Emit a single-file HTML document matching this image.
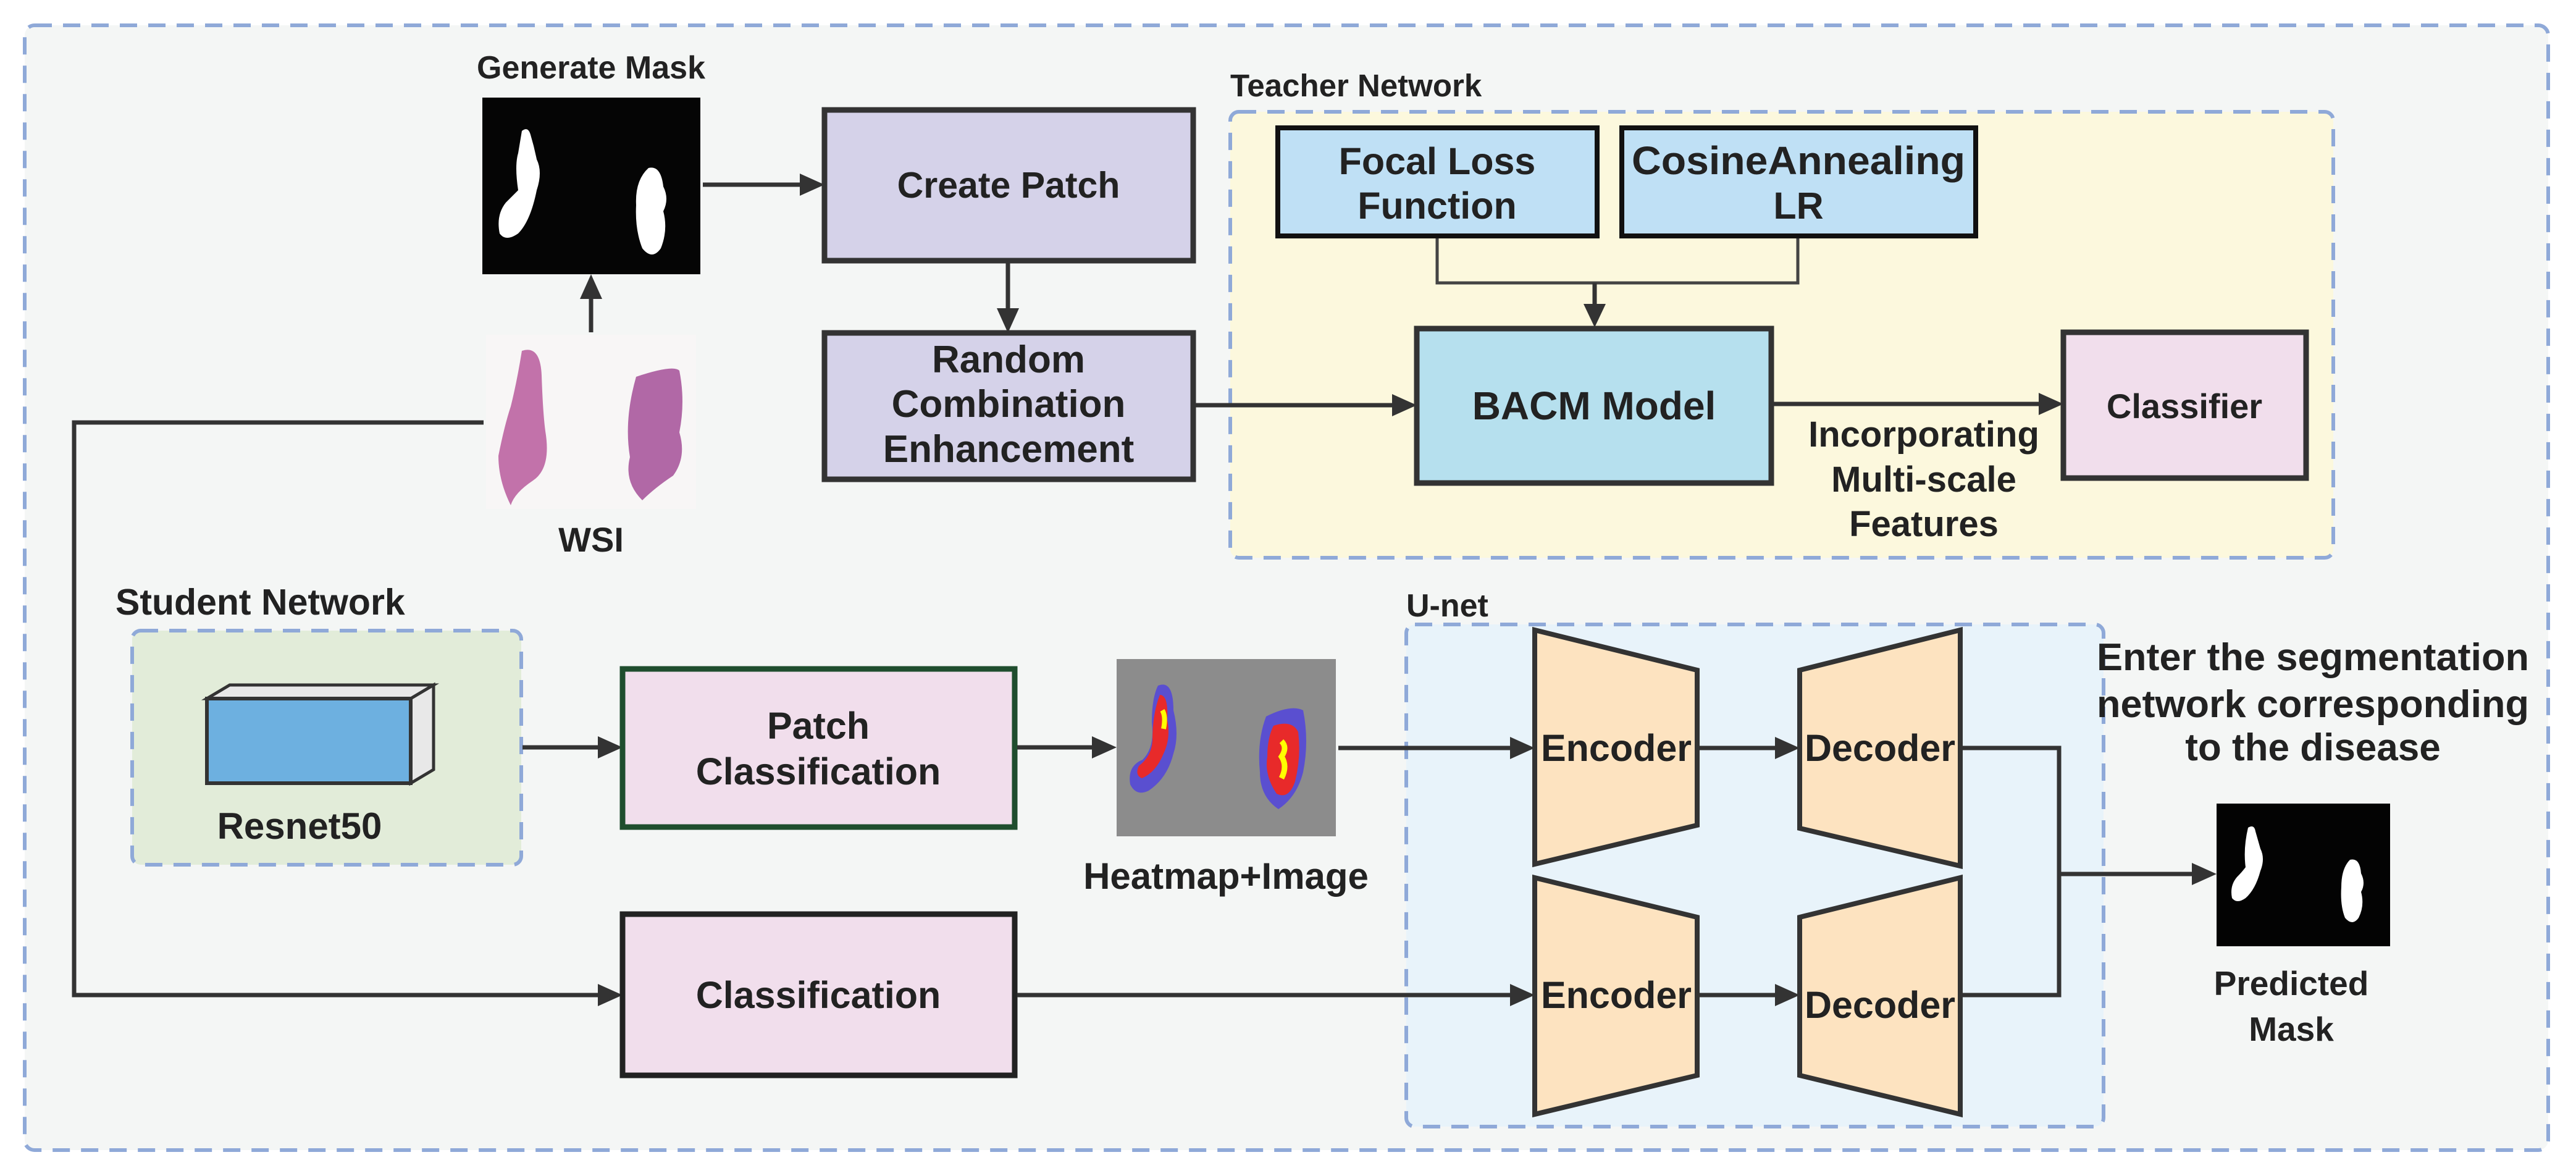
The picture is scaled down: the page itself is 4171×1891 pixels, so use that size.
<!DOCTYPE html>
<html><head><meta charset="utf-8"><style>
html,body{margin:0;padding:0;background:#fff;}
svg{display:block;}
text{font-family:"Liberation Sans",Arial,sans-serif;font-weight:bold;fill:#222;}
</style></head><body>
<svg width="4171" height="1891" viewBox="0 0 4171 1891" xmlns="http://www.w3.org/2000/svg">
<style>
.ln{stroke:#333;stroke-width:7;fill:none;}
.dash{stroke:#8fa9d8;stroke-width:6;stroke-dasharray:28 18;}
.hd{fill:#333;}
</style>
<!-- outer -->
<rect x="40" y="41" width="4086" height="1821" rx="16" fill="#f4f6f5" class="dash"/>
<!-- teacher -->
<rect x="1992" y="181" width="1786" height="722" rx="14" fill="#fcf8dd" class="dash"/>
<text x="1992" y="156" font-size="51">Teacher Network</text>
<!-- student -->
<rect x="214" y="1021" width="630" height="379" rx="14" fill="#e2ecd9" class="dash"/>
<text x="187" y="995" font-size="59">Student Network</text>
<!-- unet -->
<rect x="2277" y="1011" width="1129" height="813" rx="14" fill="#e8f3fa" class="dash"/>
<text x="2277" y="998" font-size="52">U-net</text>

<!-- Generate Mask -->
<text x="957" y="127" font-size="52" text-anchor="middle">Generate Mask</text>
<rect x="781" y="158" width="353" height="286" fill="#050505"/>
<path d="M845,212 q10,-8 14,6 q6,20 10,40 q10,20 0,50 q-10,50 -30,70 q-20,14 -30,0 q-6,-30 10,-50 q10,-10 20,-20 q-6,-40 0,-60 z" fill="#fff"/>
<path d="M1050,272 q20,-5 24,30 q10,20 0,40 q8,30 -4,60 q-14,20 -30,0 q-12,-30 -10,-70 q-2,-40 20,-60 z" fill="#fff"/>

<!-- WSI -->
<rect x="787" y="542" width="340" height="282" fill="#f8f6f6"/>
<path d="M845,568 q30,-10 32,40 q2,60 6,90 q10,60 -20,80 q-30,20 -36,40 q-20,-40 -20,-80 q10,-50 20,-80 q10,-40 18,-90 z" fill="#b85a9c" opacity="0.85"/>
<path d="M1030,610 q60,-20 70,-10 q10,50 0,100 q12,40 -10,70 q-30,20 -50,40 q-30,-30 -20,-70 q-10,-60 10,-130 z" fill="#a44f98" opacity="0.85"/>
<text x="957" y="893" font-size="56" text-anchor="middle">WSI</text>

<!-- Create Patch -->
<rect x="1335" y="178" width="597" height="244" fill="#d5d2e9" stroke="#333" stroke-width="9"/>
<text x="1633" y="320" font-size="59" text-anchor="middle">Create Patch</text>
<!-- Random -->
<rect x="1335" y="539" width="597" height="237" fill="#d5d2e9" stroke="#333" stroke-width="9"/>
<text x="1633" y="603" font-size="62" text-anchor="middle">Random</text>
<text x="1633" y="675" font-size="62" text-anchor="middle">Combination</text>
<text x="1633" y="748" font-size="62" text-anchor="middle">Enhancement</text>

<!-- Focal / Cosine -->
<rect x="2069" y="207" width="517" height="175" fill="#bfe0f5" stroke="#111" stroke-width="8"/>
<text x="2327" y="282" font-size="61" text-anchor="middle">Focal Loss</text>
<text x="2327" y="354" font-size="61" text-anchor="middle">Function</text>
<rect x="2626" y="207" width="573" height="175" fill="#bfe0f5" stroke="#111" stroke-width="8"/>
<text x="2912" y="282" font-size="64" text-anchor="middle" textLength="540" lengthAdjust="spacingAndGlyphs">CosineAnnealing</text>
<text x="2912" y="354" font-size="61" text-anchor="middle">LR</text>
<polyline points="2327,386 2327,458 2911,458 2911,386" fill="none" stroke="#444" stroke-width="5"/>
<line x1="2582" y1="458" x2="2582" y2="495" class="ln"/>
<polygon class="hd" points="2564,492 2600,492 2582,530"/>
<!-- BACM -->
<rect x="2294" y="532" width="574" height="250" fill="#b6e0ee" stroke="#333" stroke-width="9"/>
<text x="2581" y="679" font-size="64" text-anchor="middle">BACM Model</text>
<!-- Classifier -->
<rect x="3341" y="538" width="393" height="236" fill="#f1deec" stroke="#333" stroke-width="9"/>
<text x="3537" y="677" font-size="56" text-anchor="middle">Classifier</text>
<text x="3115" y="723" font-size="58" text-anchor="middle">Incorporating</text>
<text x="3115" y="796" font-size="58" text-anchor="middle">Multi-scale</text>
<text x="3115" y="868" font-size="58" text-anchor="middle">Features</text>

<!-- arrows top -->
<line x1="1138" y1="299" x2="1300" y2="299" class="ln"/>
<polygon class="hd" points="1295,281 1335,299 1295,317"/>
<line x1="957" y1="538" x2="957" y2="480" class="ln"/>
<polygon class="hd" points="939,484 957,444 975,484"/>
<line x1="1632" y1="426" x2="1632" y2="505" class="ln"/>
<polygon class="hd" points="1614,499 1650,499 1632,539"/>
<line x1="1936" y1="656" x2="2260" y2="656" class="ln"/>
<polygon class="hd" points="2254,638 2294,656 2254,674"/>
<line x1="2872" y1="654" x2="3305" y2="654" class="ln"/>
<polygon class="hd" points="3301,636 3341,654 3301,672"/>
<polyline points="783,684 120,684 120,1611 975,1611" class="ln"/>
<polygon class="hd" points="968,1593 1008,1611 968,1629"/>

<!-- Resnet cube -->
<polygon points="335,1131 372,1109 702,1109 665,1131" fill="#e8e8e8" stroke="#333" stroke-width="5"/>
<polygon points="665,1131 702,1109 702,1246 665,1268" fill="#e8e8e8" stroke="#333" stroke-width="5"/>
<rect x="335" y="1131" width="330" height="137" fill="#6db0e0" stroke="#333" stroke-width="6"/>
<text x="485" y="1358" font-size="60" text-anchor="middle">Resnet50</text>
<line x1="846" y1="1210" x2="975" y2="1210" class="ln"/>
<polygon class="hd" points="968,1192 1008,1210 968,1228"/>

<!-- Patch Classification -->
<rect x="1008" y="1083" width="635" height="256" fill="#f1deec" stroke="#1f4d2e" stroke-width="9"/>
<text x="1325" y="1196" font-size="61" text-anchor="middle">Patch</text>
<text x="1325" y="1270" font-size="61" text-anchor="middle">Classification</text>
<line x1="1647" y1="1210" x2="1775" y2="1210" class="ln"/>
<polygon class="hd" points="1768,1192 1808,1210 1768,1228"/>
<!-- Heatmap -->
<rect x="1808" y="1067" width="355" height="287" fill="#8c8c8c"/>
<path d="M1875,1110 q25,-10 25,40 q10,40 0,70 q-10,40 -40,60 q-20,10 -30,-10 q-5,-30 20,-40 q20,-20 15,-60 q0,-40 10,-60 z" fill="#5a4fd0"/>
<path d="M1878,1125 q14,0 12,40 q6,30 -6,55 q-12,30 -35,40 q-12,-5 -5,-20 q20,-15 22,-40 q0,-45 12,-75 z" fill="#e82a2a"/>
<path d="M1882,1150 q6,10 2,30" stroke="#ff0" stroke-width="8" fill="none"/>
<path d="M2050,1160 q40,-20 60,-10 q10,50 0,100 q-10,40 -40,60 q-30,-20 -30,-60 q-5,-50 10,-90 z" fill="#5a4fd0"/>
<path d="M2062,1175 q30,-10 40,10 q5,40 -5,80 q-10,30 -30,20 q-20,-30 -15,-60 q0,-30 10,-50 z" fill="#e82a2a"/>
<path d="M2075,1200 q10,10 0,25 q10,15 0,35" stroke="#ff0" stroke-width="9" fill="none"/>
<text x="1985" y="1439" font-size="60" text-anchor="middle">Heatmap+Image</text>

<!-- Classification -->
<rect x="1008" y="1480" width="635" height="261" fill="#f1deec" stroke="#222" stroke-width="9"/>
<text x="1325" y="1632" font-size="61" text-anchor="middle">Classification</text>
<line x1="1647" y1="1611" x2="2450" y2="1611" class="ln"/>
<polygon class="hd" points="2445,1593 2485,1611 2445,1629"/>

<!-- Encoders/Decoders -->
<polygon points="2485,1020 2748,1085 2748,1336 2485,1399" fill="#fde3c0" stroke="#333" stroke-width="8"/>
<polygon points="2914,1085 3174,1020 3174,1402 2914,1341" fill="#fde3c0" stroke="#333" stroke-width="8"/>
<polygon points="2485,1421 2748,1485 2748,1741 2485,1804" fill="#fde3c0" stroke="#333" stroke-width="8"/>
<polygon points="2914,1485 3174,1421 3174,1804 2914,1741" fill="#fde3c0" stroke="#333" stroke-width="8"/>
<text x="2617" y="1232" font-size="61" text-anchor="middle">Encoder</text>
<text x="3044" y="1232" font-size="61" text-anchor="middle">Decoder</text>
<text x="2617" y="1632" font-size="61" text-anchor="middle">Encoder</text>
<text x="3044" y="1648" font-size="61" text-anchor="middle">Decoder</text>
<line x1="2167" y1="1211" x2="2450" y2="1211" class="ln"/>
<polygon class="hd" points="2445,1193 2485,1211 2445,1229"/>
<line x1="2748" y1="1211" x2="2880" y2="1211" class="ln"/>
<polygon class="hd" points="2874,1193 2914,1211 2874,1229"/>
<line x1="2748" y1="1611" x2="2880" y2="1611" class="ln"/>
<polygon class="hd" points="2874,1593 2914,1611 2874,1629"/>
<polyline points="3174,1211 3334,1211 3334,1611 3174,1611" class="ln"/>
<line x1="3334" y1="1415" x2="3555" y2="1415" class="ln"/>
<polygon class="hd" points="3549,1397 3589,1415 3549,1433"/>

<!-- Predicted mask -->
<rect x="3589" y="1301" width="281" height="231" fill="#030303"/>
<path d="M3640,1340 q10,-6 12,6 q4,14 8,28 q8,16 0,36 q-8,30 -24,44 q-14,10 -22,0 q-4,-20 8,-34 q8,-8 14,-16 q-4,-30 4,-64 z" fill="#fff"/>
<path d="M3805,1392 q16,-4 18,22 q8,16 0,30 q6,22 -4,42 q-10,14 -22,0 q-8,-20 -6,-50 q0,-30 14,-44 z" fill="#fff"/>
<text x="3710" y="1611" font-size="55" text-anchor="middle">Predicted</text>
<text x="3710" y="1685" font-size="55" text-anchor="middle">Mask</text>
<text x="3745" y="1085" font-size="62" text-anchor="middle" textLength="700" lengthAdjust="spacingAndGlyphs">Enter the segmentation</text>
<text x="3745" y="1161" font-size="62" text-anchor="middle" textLength="700" lengthAdjust="spacingAndGlyphs">network corresponding</text>
<text x="3745" y="1231" font-size="62" text-anchor="middle">to the disease</text>
</svg>
</body></html>
